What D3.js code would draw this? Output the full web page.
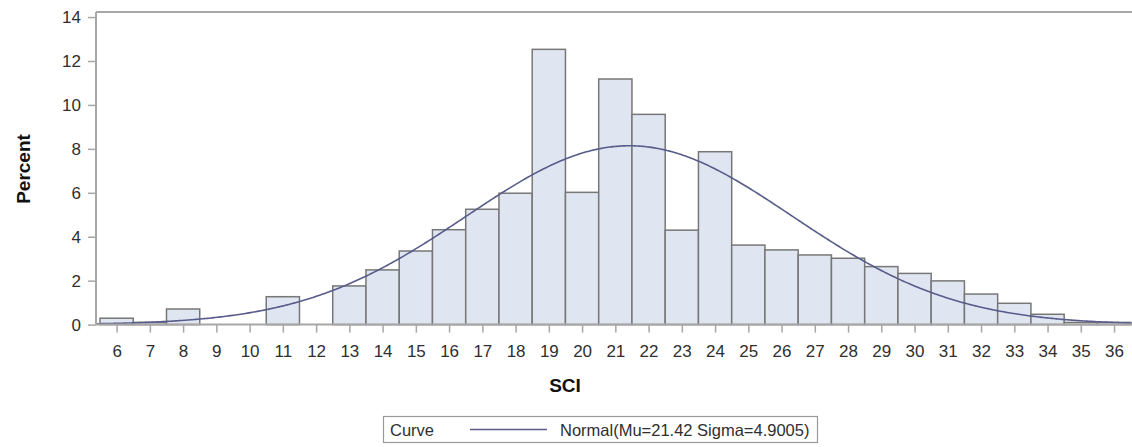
<!DOCTYPE html>
<html>
<head>
<meta charset="utf-8">
<script src="https://cdn.jsdelivr.net/npm/d3@7"></script>
<style>
  html, body { margin: 0; padding: 0; background: #fff; }
  svg { display: block; font-family: "Liberation Sans", Arial, sans-serif; }
</style>
</head>
<body>
<svg id="chart" width="1132" height="447"></svg>
<script>
// ---- data ----
const categories = [6,7,8,9,10,11,12,13,14,15,16,17,18,19,20,21,22,23,24,25,26,27,28,29,30,31,32,33,34,35,36];
const percents   = [0.29,0.1,0.71,0,0,1.27,0,1.76,2.49,3.35,4.32,5.25,5.98,12.53,6.02,11.18,9.57,4.3,7.87,3.62,3.4,3.17,3.02,2.64,2.33,1.99,1.39,0.97,0.47,0.1,0.1];
const yTicks = [0,2,4,6,8,10,12,14];
const xTicks = categories;
const normalMu = 21.42;
const normalSigma = 4.9005;
const binWidth = 1;
const legendLabel = "Normal(Mu=21.42 Sigma=4.9005)";

(function () {
// ---- layout ----
const svg = d3.select("#chart");
const pLeft = 96, pRight = 1132, pTop = 12, pBottom = 324.6;
const x = d3.scaleLinear().domain([5.38, 36.54]).range([pLeft, pRight]);
const y = d3.scaleLinear().domain([0, 14.23]).range([pBottom, pTop]);

const barFill = "#dfe6f1", barStroke = "#777777", curveColor = "#585c8a", frameColor = "#a8a6a6", textColor = "#2f2f2f";

// bars
svg.append("g").selectAll("rect")
  .data(categories.map((c, i) => ({c, v: percents[i]})).filter(d => d.v > 0))
  .join("rect")
  .attr("x", d => x(d.c - binWidth / 2))
  .attr("y", d => y(d.v))
  .attr("width", d => x(d.c + binWidth / 2) - x(d.c - binWidth / 2))
  .attr("height", d => y(0) - y(d.v))
  .attr("fill", barFill)
  .attr("stroke", barStroke)
  .attr("stroke-width", 1.5);

// normal curve from fitted parameters
const dens = xv => 100 * binWidth * Math.exp(-0.5 * ((xv - normalMu) / normalSigma) ** 2) / (normalSigma * Math.sqrt(2 * Math.PI));
const curvePts = d3.range(x.domain()[0], x.domain()[1] + 0.001, 0.05).map(xv => [xv, dens(xv)]);
svg.append("path")
  .datum(curvePts)
  .attr("fill", "none")
  .attr("stroke", curveColor)
  .attr("stroke-width", 1.6)
  .attr("d", d3.line().x(d => x(d[0])).y(d => y(d[1])));

// frame top
svg.append("line").attr("x1", pLeft).attr("x2", pRight).attr("y1", pTop).attr("y2", pTop)
  .attr("stroke", frameColor).attr("stroke-width", 2);

// y axis
const yAxis = svg.append("g").attr("transform", `translate(${pLeft},0)`)
  .call(d3.axisLeft(y).tickValues(yTicks).tickSize(8).tickPadding(7).tickFormat(d3.format("d")));
yAxis.select(".domain").attr("stroke", frameColor).attr("stroke-width", 2).attr("d", `M0,${pTop}V${pBottom}`);
yAxis.selectAll(".tick line").attr("stroke", frameColor).attr("stroke-width", 1.5);
yAxis.selectAll(".tick text").attr("fill", textColor).style("font-size", "17px");

// x axis
const xAxis = svg.append("g").attr("transform", `translate(0,${pBottom})`)
  .call(d3.axisBottom(x).tickValues(xTicks).tickSize(8).tickPadding(12).tickFormat(d3.format("d")));
xAxis.select(".domain").attr("stroke", frameColor).attr("stroke-width", 2).attr("d", `M${pLeft},0H${pRight}`);
xAxis.selectAll(".tick line").attr("stroke", frameColor).attr("stroke-width", 1.5);
xAxis.selectAll(".tick text").attr("fill", textColor).style("font-size", "17px");

// axis titles
svg.append("text").attr("transform", "translate(30,169) rotate(-90)")
  .attr("text-anchor", "middle").attr("font-weight", "bold").style("font-size", "19px").attr("fill", "#111")
  .text("Percent");
svg.append("text").attr("x", 565).attr("y", 392)
  .attr("text-anchor", "middle").attr("font-weight", "bold").style("font-size", "19px").attr("fill", "#111")
  .text("SCI");

// legend
const lg = svg.append("g");
lg.append("rect").attr("x", 383.5).attr("y", 416.5).attr("width", 434).attr("height", 26)
  .attr("fill", "#fff").attr("stroke", "#9a9a9a").attr("stroke-width", 1.2);
lg.append("text").attr("x", 390).attr("y", 436).style("font-size", "16.5px").attr("fill", textColor).text("Curve");
lg.append("line").attr("x1", 470).attr("x2", 547).attr("y1", 429.5).attr("y2", 429.5)
  .attr("stroke", curveColor).attr("stroke-width", 1.5);
lg.append("text").attr("x", 560).attr("y", 436).style("font-size", "16.5px").attr("fill", textColor).text(legendLabel);
})();
</script>
</body>
</html>
